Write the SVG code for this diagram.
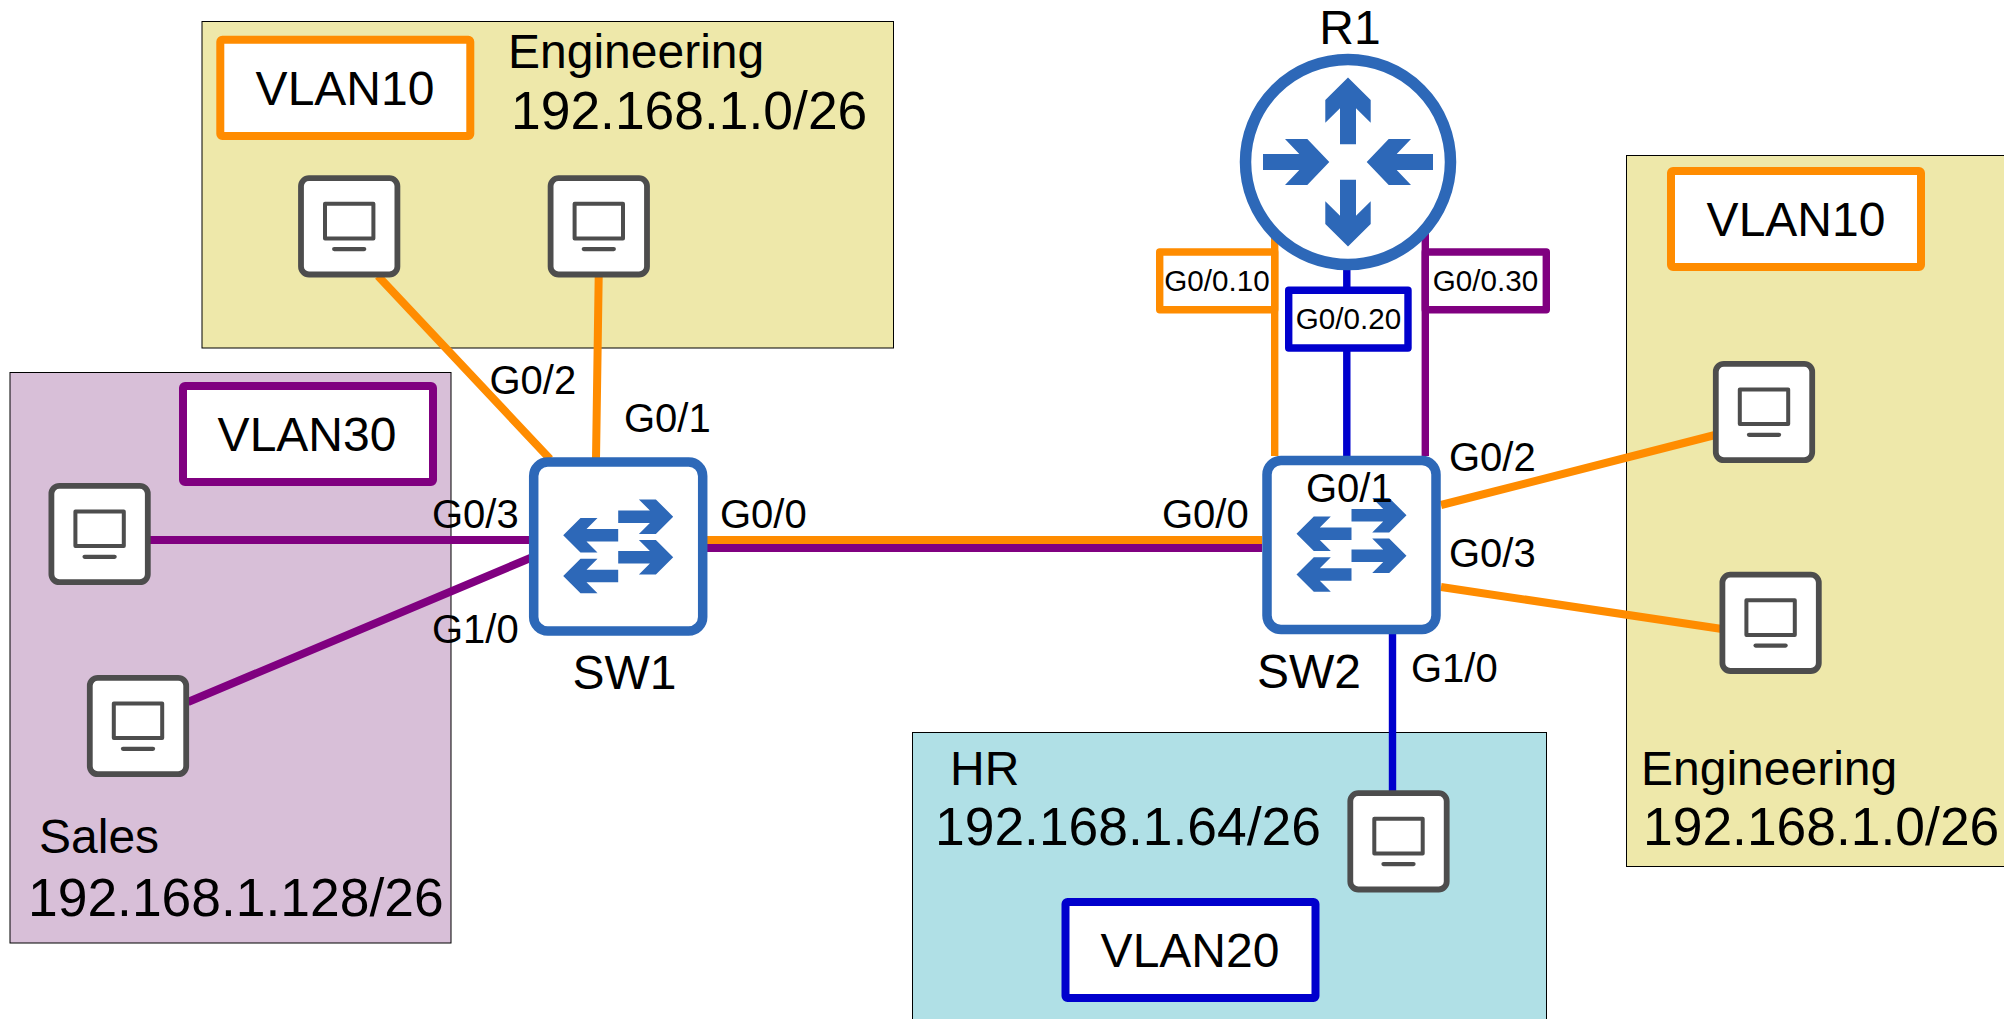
<svg xmlns="http://www.w3.org/2000/svg" width="2004" height="1019" viewBox="0 0 2004 1019">
<style>
text{font-family:"Liberation Sans",Arial,sans-serif;fill:#000}
.t48{font-size:48px}.t53{font-size:53.4px}.t40{font-size:40px}.t30{font-size:29.600px}
.zone{stroke:#000;stroke-width:1}
.tag{fill:#fff;stroke-width:8;stroke-linejoin:round}
.sub{fill:#fff;stroke-width:7.400;stroke-linejoin:round}
.o{stroke:#ff8c00}.p{stroke:#800080}.b{stroke:#0000cd}
.ln{fill:none;stroke-width:8}
.th{stroke-width:7.400}
.blue{fill:#2d68b8}
.pcb{fill:#fff;stroke:#4d4d4d;stroke-width:5.800}
.pcm{fill:none;stroke:#4d4d4d;stroke-width:4;stroke-linejoin:round}
.pcs{fill:none;stroke:#4d4d4d;stroke-width:4.300;stroke-linecap:round}
.sw{fill:#fff;stroke:#2d68b8;stroke-width:9.500}
</style>
<defs>
<g id="pc"><rect class="pcb" x="-48.200" y="-48.200" width="96.400" height="96.400" rx="8"/><rect class="pcm" x="-24.200" y="-22.600" width="48.400" height="34.700"/><path class="pcs" d="M-15 22.800H15"/></g>
<path id="ar" class="blue" d="M0-6.200H31.700L20.700-17.300H37.700L55 0 37.700 17.300H20.700L31.700 6.200H0Z"/>
<g id="swi"><rect class="sw" x="-84.500" y="-84.500" width="169" height="169" rx="14"/>
<use href="#ar" y="-29.800"/><use href="#ar" y="10.800"/><use href="#ar" transform="translate(0 -11.200) scale(-1 1)"/><use href="#ar" transform="translate(0 29.500) scale(-1 1)"/></g>
<path id="ra" class="blue" d="M-85-8H-48.700L-63-23H-40.700L-18.700 0-40.700 23H-63L-48.700 8H-85Z"/>
<path id="ua" class="blue" d="M-8-17.700V-53.700L-22.700-39.300V-62L0-84.500 22.700-62V-39.300L8-53.700V-17.700Z"/>
</defs>
<g id="zones">
<rect id="zone-eng-left" class="zone" x="202" y="21.500" width="691.500" height="326.500" fill="#eee8aa"/>
<rect id="zone-sales" class="zone" x="10" y="372.500" width="441" height="570.500" fill="#d8bfd8"/>
<rect id="zone-hr" class="zone" x="912.500" y="732.500" width="634" height="300" fill="#b0e0e6"/>
<rect id="zone-eng-right" class="zone" x="1626.500" y="155.500" width="400" height="711" fill="#eee8aa"/>
</g>
<g id="connectors">
<path class="ln o" d="M378 276L550 459M598.700 276L596 459"/>
<path class="ln p" d="M148 540H534M188 702L534 556.500"/>
<path class="ln o" d="M707 540H1262"/>
<path class="ln p" d="M707 548H1262"/>
<path class="ln th o" d="M1274.700 230V456"/>
<path class="ln th b" d="M1346.800 260V456"/>
<path class="ln th p" d="M1425.300 230V456"/>
<path class="ln o" d="M1441 505L1715 435M1441 587L1722 629"/>
<path class="ln th b" d="M1392.500 634V792"/>
</g>
<g id="R1"><circle cx="1348" cy="162" r="102.500" fill="#fff" stroke="#2d68b8" stroke-width="11.500"/>
<g transform="translate(1348 162)"><use href="#ra"/><use href="#ra" transform="scale(-1 1)"/><use href="#ua"/><use href="#ua" transform="scale(1 -1)"/></g>
<text class="t48" x="1350" y="43.500" text-anchor="middle">R1</text></g>
<g id="SW1"><use href="#swi" x="618.200" y="546.500"/><text class="t48" x="624.500" y="689" text-anchor="middle">SW1</text></g>
<g id="SW2"><use href="#swi" x="1351.500" y="545"/><text class="t48" x="1309" y="688" text-anchor="middle">SW2</text></g>
<g id="pc-eng1"><use href="#pc" x="349.200" y="226.300"/></g>
<g id="pc-eng2"><use href="#pc" x="598.800" y="226.300"/></g>
<g id="pc-sales1"><use href="#pc" x="99.600" y="534"/></g>
<g id="pc-sales2"><use href="#pc" x="138" y="726"/></g>
<g id="pc-hr"><use href="#pc" x="1398.500" y="841.300"/></g>
<g id="pc-eng3"><use href="#pc" x="1764" y="412"/></g>
<g id="pc-eng4"><use href="#pc" x="1770.600" y="622.800"/></g>
<g id="vlan-tags">
<rect class="tag o" x="220.300" y="39.700" width="250" height="96.300" rx="2"/><text class="t48" x="345" y="105" text-anchor="middle">VLAN10</text>
<rect class="tag p" x="183" y="386" width="250" height="96" rx="2"/><text class="t48" x="307" y="450.700" text-anchor="middle">VLAN30</text>
<rect class="tag o" x="1671" y="171" width="250" height="96" rx="2"/><text class="t48" x="1796" y="235.700" text-anchor="middle">VLAN10</text>
<rect class="tag b" x="1065.500" y="902" width="250" height="96" rx="2"/><text class="t48" x="1190" y="966.700" text-anchor="middle">VLAN20</text>
</g>
<g id="subif">
<rect class="sub o" x="1159.700" y="252" width="115" height="57.700"/><text class="t30" x="1217" y="291" text-anchor="middle">G0/0.10</text>
<rect class="sub b" x="1288.700" y="290.300" width="119.300" height="57.700"/><text class="t30" x="1348.500" y="329" text-anchor="middle">G0/0.20</text>
<rect class="sub p" x="1425.300" y="252" width="121" height="57.700"/><text class="t30" x="1485.500" y="291" text-anchor="middle">G0/0.30</text>
</g>
<g id="labels">
<text class="t48" x="508" y="68">Engineering</text><text class="t53" x="511" y="129">192.168.1.0/26</text>
<text class="t48" x="39" y="852.500">Sales</text><text class="t53" x="28" y="916">192.168.1.128/26</text>
<text class="t48" x="950" y="784.500">HR</text><text class="t53" x="935" y="845">192.168.1.64/26</text>
<text class="t48" x="1641" y="785">Engineering</text><text class="t53" x="1643" y="845">192.168.1.0/26</text>
<text class="t40" x="489.500" y="394">G0/2</text><text class="t40" x="624" y="432">G0/1</text>
<text class="t40" x="432" y="527.700">G0/3</text><text class="t40" x="720" y="527.700">G0/0</text>
<text class="t40" x="432" y="643">G1/0</text><text class="t40" x="1162" y="527.700">G0/0</text>
<text class="t40" x="1306" y="501.500">G0/1</text><text class="t40" x="1449" y="470.700">G0/2</text>
<text class="t40" x="1449" y="566.700">G0/3</text><text class="t40" x="1411" y="682">G1/0</text>
</g>
</svg>
